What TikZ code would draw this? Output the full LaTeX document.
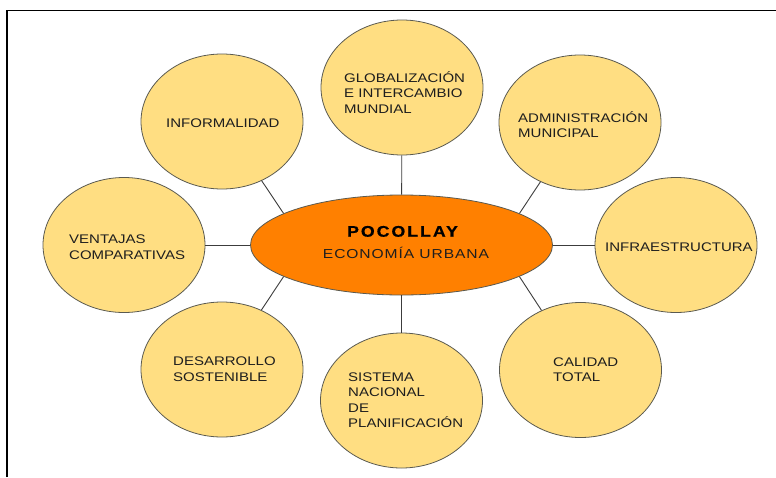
\documentclass[tikz,border=0pt]{standalone}
\usepackage{fontspec}
\setmainfont{Liberation Sans}
\newfontfamily\lblfont[FakeStretch=1.2]{Liberation Sans}
\newfontfamily\pocfont[FakeStretch=1.15,LetterSpace=13,FakeBold=0.6]{Liberation Sans}
\newfontfamily\ecofont[FakeStretch=1.2,LetterSpace=7]{Liberation Sans}
\usetikzlibrary{shapes.geometric}
\definecolor{circfill}{HTML}{FFDE82}
\definecolor{ctrfill}{HTML}{FF8000}
\definecolor{edgecol}{HTML}{5A5A50}
\definecolor{linkcol}{HTML}{3C3C3C}
\definecolor{txtcol}{HTML}{1E1E1E}
\begin{document}
\begin{tikzpicture}[x=1pt,y=-1pt,
  bubble/.style={ellipse, draw=edgecol, fill=circfill, line width=0.8pt,
    minimum width=162pt, minimum height=135pt, inner sep=0pt},
  hub/.style={ellipse, draw=edgecol, fill=ctrfill, line width=0.8pt,
    minimum width=302pt, minimum height=100pt, inner sep=0pt},
  lbl/.style={font=\lblfont\fontsize{12.5}{15.5}\selectfont, text=txtcol,
    align=left, inner sep=0pt, anchor=west},
  link/.style={draw=linkcol, line width=0.9pt},
  frameline/.style={draw=black, line width=1.8pt}
]
\useasboundingbox (0,0) rectangle (776,477);
\fill[white] (0,0) rectangle (776,477);
\coordinate (fbl) at (7,477);
\coordinate (ftl) at (7,10.5);
\coordinate (ftr) at (776,10.5);
\draw[frameline] (fbl) -- (ftl) -- (ftr);

\node[hub] (ctr) at (401.5,245) {};
\node[bubble] (glob) at (402,87.5) {};
\node[bubble] (inf) at (222,121.5) {};
\node[bubble] (adm) at (580,122.5) {};
\node[bubble] (ven) at (124,245) {};
\node[bubble] (infra) at (676,245) {};
\node[bubble] (des) at (222,369.5) {};
\node[bubble] (sis) at (401.5,400.5) {};
\node[bubble] (cal) at (580.5,370) {};

\draw[link] (glob) -- (ctr);
\draw[link] (sis) -- (ctr);
\draw[link] (ven) -- (ctr);
\draw[link] (infra) -- (ctr);
\draw[link] (inf) -- (ctr.165);
\draw[link] (adm) -- (ctr.15);
\draw[link] (des) -- (ctr.195);
\draw[link] (cal) -- (ctr.-15);

\node[lbl] (infT) at (166,123) {INFORMALIDAD};
\node[lbl] (globT) at (344,92.3) {GLOBALIZACIÓN\\E INTERCAMBIO\\MUNDIAL};
\node[lbl] (admT) at (518,124.8) {ADMINISTRACIÓN\\MUNICIPAL};
\node[lbl] (venT) at (69,247) {VENTAJAS\\COMPARATIVAS};
\node[lbl] (infraT) at (605,246.7) {INFRAESTRUCTURA};
\node[lbl] (desT) at (173,369) {DESARROLLO\\SOSTENIBLE};
\node[lbl] (calT) at (553,369.5) {CALIDAD\\TOTAL};
\node[lbl] (sisT) at (348,400) {SISTEMA\\NACIONAL\\DE\\PLANIFICACIÓN};

\node[font=\pocfont\bfseries\fontsize{15.4}{18}\selectfont, inner sep=0pt, anchor=base] (pocT) at (402.5,236.7) {POCOLLAY};
\node[font=\ecofont\fontsize{13}{16}\selectfont, text=txtcol, inner sep=0pt, anchor=base] (ecoT) at (406,258.3) {ECONOMÍA URBANA};
\end{tikzpicture}
\end{document}
